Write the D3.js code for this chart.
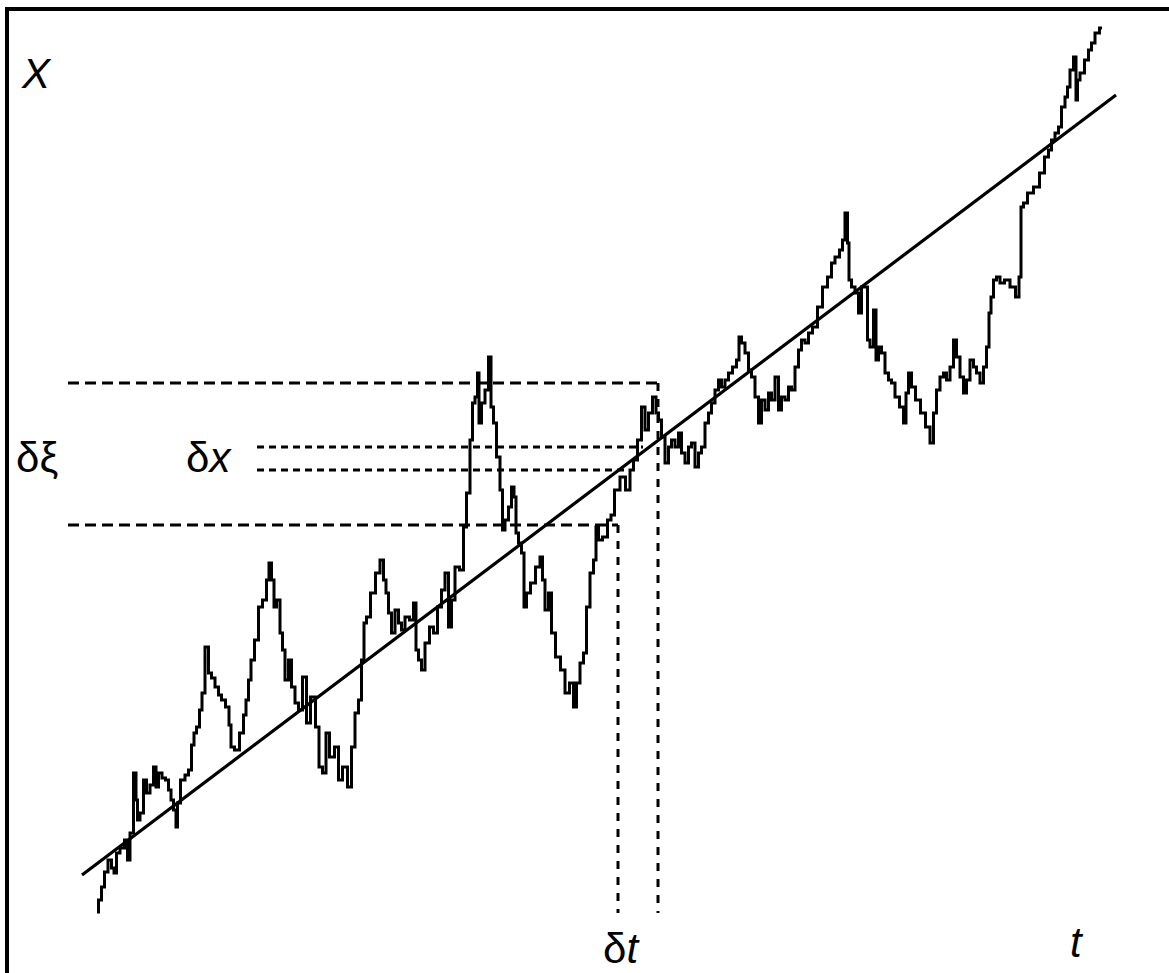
<!DOCTYPE html>
<html>
<head>
<meta charset="utf-8">
<script src="https://cdn.jsdelivr.net/npm/d3@7"></script>
<style>
  html, body { margin: 0; padding: 0; background: #fff; }
  svg { display: block; }
  text { font-family: "Liberation Sans", Arial, Helvetica, sans-serif; fill: #000; }
</style>
</head>
<body>
<svg id="chart" width="1169" height="973"></svg>
<script>
// Sample path of the process X(t): time stamps and values
const pathT = [17,20,23,26,30,33,35,38,42,47,48,52,55,57,58,62,65,68,72,75,77,80,84,87,90,92,95,97,98,
  103,107,110,113,115,118,121,123,127,130,133,137,140,143,148,150,152,157,162,165,167,170,172,177,180,
  185,188,190,193,195,198,202,203,207,210,213,217,220,225,228,233,238,240,245,247,252,257,260,265,270,
  273,277,280,283,285,288,293,298,302,305,307,310,313,317,320,323,327,332,335,337,340,343,347,352,355,
  360,363,367,370,373,377,382,385,388,392,393,397,398,400,403,407,410,412,415,418,422,423,427,430,433,
  435,437,440,443,445,448,453,458,462,463,467,470,473,478,483,487,492,495,498,502,505,508,512,515,517,
  520,525,530,532,537,543,548,552,555,560,563,567,570,575,577,580,583,587,590,593,597,600,603,607,610,
  613,617,620,623,627,630,633,637,640,643,647,650,655,658,660,663,667,670,673,677,680,683,687,690,693,
  697,700,703,707,710,713,717,720,723,727,730,735,740,745,750,753,757,762,763,767,768,770,773,777,780,
  783,787,788,792,795,797,800,803,807,810,813,817,822,825,827,830,833,838,843,848,852,855,858,862,865,
  868,872,875,878,882,885,888,892,895,898,902,905,908,910,912,915,918,922,927,933,938,940,942,945,950,
  957,962,967,970,973,977,980,983,987,988,992,995,997,998,1002,1007,1010,1013,1017,1022];
const pathX = [-12,0,13,28,40,32,27,47,52,60,40,67,127,100,80,87,120,107,115,133,113,127,122,120,110,100,90,73,97,
  120,125,130,155,167,173,190,207,253,227,222,213,205,200,193,175,153,150,167,185,200,220,240,260,293,
  300,320,337,320,293,300,267,250,220,240,213,197,190,223,177,203,173,133,127,167,143,153,120,133,113,
  153,187,200,240,277,283,307,327,340,320,307,287,267,290,277,270,283,280,297,250,240,230,257,273,267,
  293,310,327,273,300,333,330,373,407,460,497,503,527,477,497,510,543,493,477,443,410,370,380,393,413,
  403,367,357,347,293,307,317,333,343,320,290,307,267,243,230,207,217,193,217,237,247,293,327,340,373,
  360,363,380,385,410,423,410,430,440,460,493,470,487,503,487,480,463,437,453,460,453,467,447,437,453,
  457,433,447,453,477,487,497,510,520,513,520,527,533,540,563,557,547,530,523,503,477,500,490,507,500,
  523,490,503,500,513,510,533,550,560,557,567,573,593,613,623,637,643,650,660,687,657,620,613,607,587,
  613,613,560,553,590,540,553,547,527,520,517,503,493,477,507,527,513,500,487,473,457,487,510,523,527,
  520,533,560,543,523,507,520,540,533,527,517,533,553,587,603,620,623,617,620,613,603,623,693,697,707,
  713,727,743,750,760,767,773,793,803,813,830,843,800,820,827,840,850,857,867,872];

// Trend line X = mu * t, given by its two ends
const driftT = [2, 1036];
const driftX = [25, 805];

// Range of X values (delta xi) and the time step (delta t)
const xiLevels = [517, 375];
const xiEndT = [578, 538];
const xiStartT = -12;
// Increment of the trend over delta t (delta x)
const dxLevels = [453, 430];
const dxStartT = 177;
const dxEndT = [563, 548];
const dtBottomX = -13;

const svg = d3.select("#chart");
const W = 1169, H = 973;

const x = d3.scaleLinear().domain([0, 1089]).range([80, 1169]);
const y = d3.scaleLinear().domain([0, 900]).range([900, 0]);

// Frame
svg.append("rect")
  .attr("x", 7).attr("y", 9)
  .attr("width", W + 20).attr("height", H + 20)
  .attr("fill", "none").attr("stroke", "#000").attr("stroke-width", 4);

// Long-dashed levels for delta xi
xiLevels.forEach((lv, i) => {
  svg.append("line")
    .attr("x1", x(xiStartT)).attr("x2", x(xiEndT[i]))
    .attr("y1", y(lv)).attr("y2", y(lv))
    .attr("stroke", "#000").attr("stroke-width", 3)
    .attr("stroke-dasharray", "11,6");
  // vertical marks of the time interval
  svg.append("line")
    .attr("x1", x(xiEndT[i])).attr("x2", x(xiEndT[i]))
    .attr("y1", y(lv)).attr("y2", y(dtBottomX))
    .attr("stroke", "#000").attr("stroke-width", 3)
    .attr("stroke-dasharray", "8,8");
});

// Short-dashed levels for delta x
dxLevels.forEach((lv, i) => {
  svg.append("line")
    .attr("x1", x(dxStartT)).attr("x2", x(dxEndT[i]))
    .attr("y1", y(lv)).attr("y2", y(lv))
    .attr("stroke", "#000").attr("stroke-width", 3)
    .attr("stroke-dasharray", "7,5");
});

// Trend line
svg.append("line")
  .attr("x1", x(driftT[0])).attr("y1", y(driftX[0]))
  .attr("x2", x(driftT[1])).attr("y2", y(driftX[1]))
  .attr("stroke", "#000").attr("stroke-width", 3.2);

// Sample path, drawn as a stepped random walk
const pts = pathT.map((t, i) => [t, pathX[i]]);
svg.append("path")
  .datum(pts)
  .attr("d", d3.line().x(d => x(d[0])).y(d => y(d[1])).curve(d3.curveStep))
  .attr("fill", "none").attr("stroke", "#000")
  .attr("stroke-width", 3).attr("stroke-linejoin", "miter");

// Labels
const fs = 42;
function label(px, py, parts) {
  const t = svg.append("text").attr("x", px).attr("y", py).style("font-size", fs + "px");
  parts.forEach(p => t.append("tspan").text(p[0]).style("font-style", p[1] ? "italic" : "normal"));
}
label(22, 88, [["X", true]]);
label(16, 472, [["δξ", false]]);
label(186, 472, [["δ", false], ["x", true]]);
label(603, 963, [["δ", false], ["t", true]]);
label(1070, 957, [["t", true]]);
</script>
</body>
</html>
